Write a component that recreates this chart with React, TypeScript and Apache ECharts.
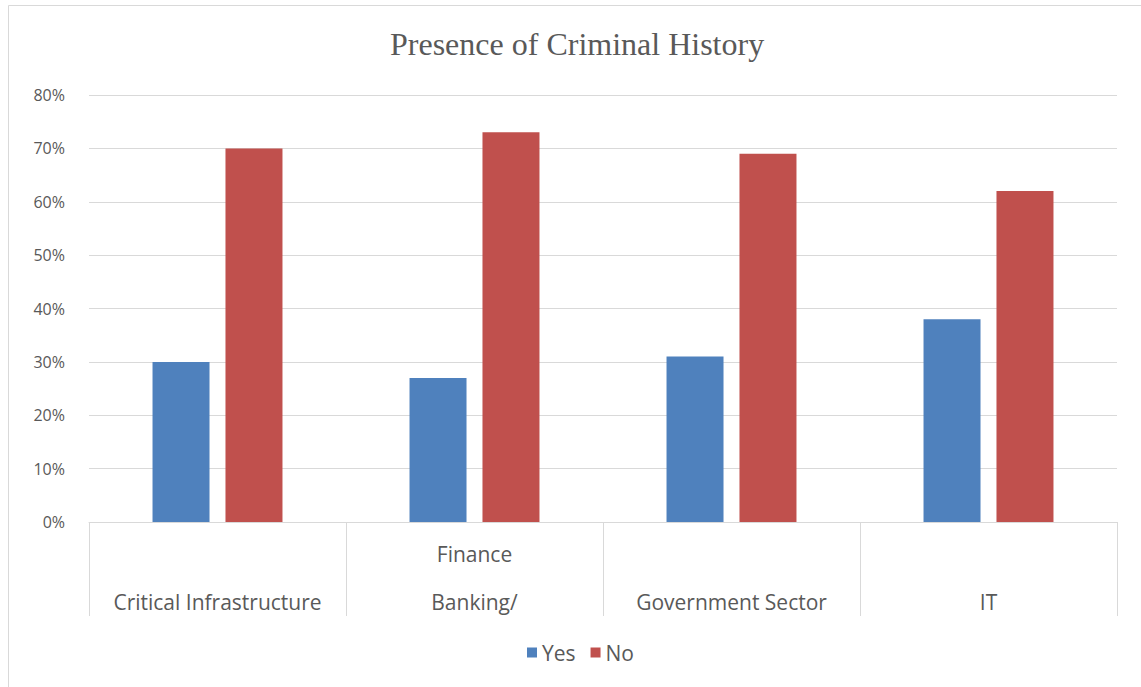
import React, { useEffect, useRef } from "react";
import * as echarts from "echarts";

const categories = ["Critical Infrastructure", "Finance\nBanking/", "Government Sector", "IT"];
const seriesNames = ["Yes", "No"];
const yesValues = [30, 27, 31, 38];
const noValues = [70, 73, 69, 62];

export default function App() {
  const ref = useRef<HTMLDivElement>(null);
  useEffect(() => {
    if (!ref.current) return;
    const chart = echarts.init(ref.current, undefined, { renderer: "svg" });
    chart.setOption({
      animation: false,
      backgroundColor: "#ffffff",
      graphic: [
        {
          type: "rect",
          shape: { x: 8.5, y: 5.5, width: 1140, height: 700 },
          style: { fill: "none", stroke: "#d9d9d9", lineWidth: 1 },
          silent: true,
        },
      ],
      title: {
        text: "Presence of Criminal History",
        left: 385,
        top: 23,
        textStyle: {
          fontFamily: "Liberation Serif",
          fontSize: 32,
          fontWeight: "normal",
          color: "#595959",
        },
      },
      legend: {
        data: seriesNames,
        top: 637,
        left: 522,
        itemWidth: 10,
        itemHeight: 10,
        itemGap: 15,
        icon: "rect",
        textStyle: { fontFamily: "Open Sans", fontSize: 21, color: "#595959" },
      },
      grid: { left: 89, right: 24, top: 95, bottom: 165 },
      xAxis: {
        type: "category",
        data: categories,
        axisLine: { lineStyle: { color: "#d9d9d9", width: 1 } },
        axisTick: { show: true, length: 94, lineStyle: { color: "#d9d9d9", width: 1 } },
        axisLabel: {
          fontFamily: "Open Sans",
          fontSize: 21,
          color: "#595959",
          lineHeight: 48,
          margin: 8,
          interval: 0,
          formatter: (v: string) => (v.indexOf("\n") >= 0 ? v : "\n" + v),
        },
      },
      yAxis: {
        type: "value",
        min: 0,
        max: 80,
        interval: 10,
        axisLine: { show: false },
        axisTick: { show: false },
        splitLine: { lineStyle: { color: "#d9d9d9", width: 1 } },
        axisLabel: {
          formatter: "{value}%",
          fontFamily: "Open Sans",
          fontSize: 16,
          color: "#595959",
          margin: 24,
        },
      },
      series: [
        {
          name: seriesNames[0],
          type: "bar",
          data: yesValues,
          barWidth: 57,
          barGap: "28%",
          itemStyle: { color: "#4f81bd" },
        },
        {
          name: seriesNames[1],
          type: "bar",
          data: noValues,
          barWidth: 57,
          barGap: "28%",
          itemStyle: { color: "#c0504d" },
        },
      ],
    });
    return () => chart.dispose();
  }, []);
  return (
    <div
      ref={ref}
      style={{ position: "absolute", left: 0, top: 0, width: 1141, height: 687 }}
    />
  );
}
